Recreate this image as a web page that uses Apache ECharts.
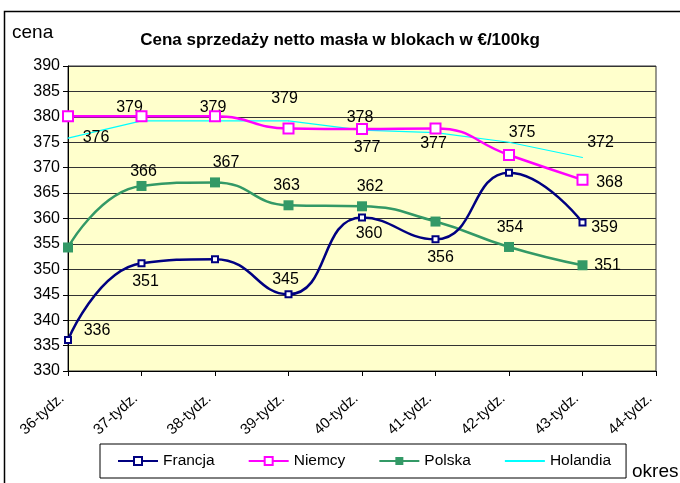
<!DOCTYPE html>
<html>
<head>
<meta charset="utf-8">
<script src="https://cdn.jsdelivr.net/npm/echarts@6/dist/echarts.min.js"></script>
<style>
  html, body { margin: 0; padding: 0; background: #fff; }
  #chart { width: 680px; height: 483px; }
</style>
</head>
<body>
<div id="chart"></div>
<script>
// dane z wykresu
var weeks = ['36-tydz.', '37-tydz.', '38-tydz.', '39-tydz.', '40-tydz.', '41-tydz.', '42-tydz.', '43-tydz.', '44-tydz.'];
var francja = [336.1, 351.2, 352.0, 345.1, 360.2, 355.9, 369.0, 359.2];
var niemcy = [380.1, 380.1, 380.1, 377.7, 377.6, 377.7, 372.5, 367.6];
var polska = [354.3, 366.4, 367.1, 362.6, 362.4, 359.4, 354.4, 350.8];
var holandia = [375.8, 379.2, 379.2, 379.2, 377.4, 376.9, 375.0, 372.0];

// przesuniecia etykiet (null = brak etykiety)
var francjaLbl = [[29, -9], [4, 18], null, [-3, -15], [7, 16], [5, 18], null, [22, 5]];
var niemcyLbl = [null, null, null, null, [-2, -11], null, null, [27, 3]];
var polskaLbl = [null, [2, -14], [11, -20], [-2, -20], [8, -20], null, [1, -19], [25, 0]];
var holandiaLbl = [[28, -1], [-12, -13], [-2, -13], [-4, -22], [5, 18], [-2, 11], [13, -10], [18, -15]];

function withLabels(values, offsets) {
    return values.map(function (v, i) {
        var off = offsets[i];
        return {
            value: v,
            label: off ? {
                show: true,
                position: 'inside',
                offset: off,
                formatter: String(Math.round(v))
            } : { show: false }
        };
    });
}

var chart = echarts.init(document.getElementById('chart'));

var labelStyle = {
    color: '#000',
    fontFamily: 'Liberation Sans, Arial, sans-serif',
    fontSize: 16,
    align: 'center',
    verticalAlign: 'middle'
};

var option = {
    animation: false,
    backgroundColor: '#fff',
    textStyle: { fontFamily: 'Liberation Sans, Arial, sans-serif' },
    title: {
        text: 'Cena sprzedaży netto masła w blokach w €/100kg',
        left: 'center',
        top: 27,
        textStyle: { fontSize: 17, fontWeight: 'bold', color: '#000' }
    },
    graphic: [
        {
            type: 'rect',
            shape: { x: 4.5, y: 11.5, width: 800, height: 600 },
            style: { fill: 'none', stroke: '#000', lineWidth: 1.5 },
            silent: true
        },
        {
            type: 'text', left: 12, top: 23,
            style: { text: 'cena', fontSize: 19, fill: '#000', fontFamily: 'Liberation Sans, Arial' }
        },
        {
            type: 'text', left: 632, top: 462,
            style: { text: 'okres', fontSize: 19, fill: '#000', fontFamily: 'Liberation Sans, Arial' }
        }
    ],
    legend: {
        left: 100,
        top: 444,
        padding: [9, 15, 9, 17],
        itemWidth: 40,
        itemHeight: 10,
        itemGap: 33,
        borderColor: '#000',
        borderWidth: 1,
        textStyle: { fontSize: 15.5, color: '#000' },
        data: ['Francja', 'Niemcy', 'Polska', { name: 'Holandia', itemStyle: { opacity: 0 } }]
    },
    grid: {
        left: 68,
        right: 24,
        top: 66,
        bottom: 112,
        show: true,
        backgroundColor: '#ffffcc',
        borderColor: '#333',
        borderWidth: 1
    },
    xAxis: {
        type: 'category',
        data: weeks,
        boundaryGap: false,
        axisLine: { lineStyle: { color: '#000', width: 1 } },
        axisTick: { show: true, length: 5, lineStyle: { color: '#000' } },
        axisLabel: { rotate: 42, margin: 20, padding: [0, 8, 0, 0], fontSize: 15, color: '#000', interval: 0 },
        splitLine: { show: false }
    },
    yAxis: {
        type: 'value',
        min: 330,
        max: 390,
        interval: 5,
        axisLine: { show: true, lineStyle: { color: '#000' } },
        axisTick: { show: true, length: 5, lineStyle: { color: '#000' } },
        axisLabel: { fontSize: 16, color: '#000', margin: 8 },
        splitLine: { show: true, lineStyle: { color: '#333', width: 1 } }
    },
    series: [
        {
            name: 'Francja',
            type: 'line',
            smooth: 0.5,
            symbol: 'emptyRect',
            symbolSize: 6,
            color: '#000080',
            lineStyle: { width: 2.5, color: '#000080' },
            itemStyle: { color: '#000080', borderWidth: 1 },
            label: labelStyle,
            data: withLabels(francja, francjaLbl),
            z: 4
        },
        {
            name: 'Niemcy',
            type: 'line',
            smooth: 0.5,
            symbol: 'emptyRect',
            symbolSize: 10,
            color: '#ff00ff',
            lineStyle: { width: 2.5, color: '#ff00ff' },
            itemStyle: { color: '#ff00ff', borderWidth: 1.2 },
            label: labelStyle,
            data: withLabels(niemcy, niemcyLbl),
            z: 3
        },
        {
            name: 'Polska',
            type: 'line',
            smooth: 0.5,
            symbol: 'rect',
            symbolSize: 10,
            color: '#339966',
            lineStyle: { width: 2.5, color: '#339966' },
            itemStyle: { color: '#339966' },
            label: labelStyle,
            data: withLabels(polska, polskaLbl),
            z: 3
        },
        {
            name: 'Holandia',
            type: 'line',
            smooth: false,
            symbol: 'circle',
            showSymbol: true,
            symbolSize: 1,
            color: '#00ffff',
            lineStyle: { width: 1.2, color: '#00ffff' },
            itemStyle: { color: '#00ffff' },
            label: labelStyle,
            data: withLabels(holandia, holandiaLbl),
            z: 2
        }
    ]
};

chart.setOption(option);
</script>
</body>
</html>
